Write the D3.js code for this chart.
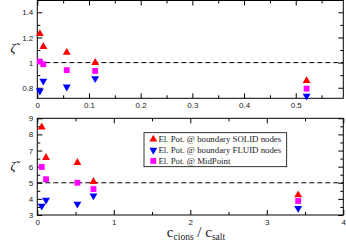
<!DOCTYPE html>
<html>
<head>
<meta charset="utf-8">
<script src="https://cdn.jsdelivr.net/npm/d3@7"></script>
<style>
body { margin: 0; background: #fff; }
svg { display: block; font-family: "Liberation Serif", "DejaVu Serif", serif; }
.axis text { font-size: 8px; fill: #222; }
.axis line { stroke: #000; }
</style>
</head>
<body>
<svg id="chart" width="346" height="244"></svg>
<script>
// top panel data (x = c_cions / c_salt)
var topX = [0.005, 0.0116, 0.057, 0.112, 0.521];
var topSolid = [1.23, 1.127, 1.08, 1.0, 0.855];
var topFluid = [0.775, 0.854, 0.807, 0.873, 0.735];
var topMid = [1.008, 0.987, 0.94, 0.934, 0.793];

// bottom panel data
var botX = [0.058, 0.114, 0.524, 0.734, 3.41];
var botSolid = [8.45, 6.56, 6.25, 5.07, 4.24];
var botFluid = [3.56, 3.93, 3.68, 4.2, 3.42];
var botMid = [5.98, 5.22, 5.0, 4.61, 3.87];

var topXTicks = [0, 0.1, 0.2, 0.3, 0.4, 0.5];
var topYTicks = [0.8, 1, 1.2, 1.4];
var botXTicks = [0, 1, 2, 3, 4];
var botYTicks = [3, 4, 5, 6, 7, 8, 9];

var legendLabels = ["El. Pot. @ boundary SOLID nodes", "El. Pot. @ boundary FLUID nodes", "El. Pot. @ MidPoint"];
var colors = ["#ff0000", "#0000ff", "#ff00ff"];

var svg = d3.select("#chart");
var up = d3.symbol().type(d3.symbolTriangle).size(27);
var sq = d3.symbol().type(d3.symbolSquare).size(34);

function panel(cfg) {
  var x = d3.scaleLinear().domain(cfg.xDom).range([37.3, 343.3]);
  var y = d3.scaleLinear().domain(cfg.yDom).range([cfg.bottom, cfg.top]);
  var g = svg.append("g");
  var w = 306, h = cfg.bottom - cfg.top;

  // minor ticks
  g.append("g").attr("class", "axis").attr("transform", "translate(0," + cfg.bottom + ")")
    .call(d3.axisBottom(x).tickValues(cfg.xMinor).tickSize(-3).tickSizeOuter(0).tickFormat(""));
  g.append("g").attr("class", "axis").attr("transform", "translate(0," + cfg.top + ")")
    .call(d3.axisTop(x).tickValues(cfg.xMinor).tickSize(-3).tickSizeOuter(0).tickFormat(""));
  g.append("g").attr("class", "axis").attr("transform", "translate(37.3,0)")
    .call(d3.axisLeft(y).tickValues(cfg.yMinor).tickSize(-3).tickSizeOuter(0).tickFormat(""));
  g.append("g").attr("class", "axis").attr("transform", "translate(343.3,0)")
    .call(d3.axisRight(y).tickValues(cfg.yMinor).tickSize(-3).tickSizeOuter(0).tickFormat(""));

  // major ticks
  g.append("g").attr("class", "axis").attr("transform", "translate(0," + cfg.bottom + ")")
    .call(d3.axisBottom(x).tickValues(cfg.xTicks).tickSize(-5).tickSizeOuter(0).tickPadding(4).tickFormat(d3.format("")));
  g.append("g").attr("class", "axis").attr("transform", "translate(0," + cfg.top + ")")
    .call(d3.axisTop(x).tickValues(cfg.xTicks).tickSize(-5).tickSizeOuter(0).tickFormat(""));
  g.append("g").attr("class", "axis").attr("transform", "translate(37.3,0)")
    .call(d3.axisLeft(y).tickValues(cfg.yTicks).tickSize(-5).tickSizeOuter(0).tickPadding(4).tickFormat(d3.format("")));
  g.append("g").attr("class", "axis").attr("transform", "translate(343.3,0)")
    .call(d3.axisRight(y).tickValues(cfg.yTicks).tickSize(-5).tickSizeOuter(0).tickFormat(""));
  g.selectAll(".domain").remove();

  // frame
  g.append("rect").attr("x", 37.3).attr("y", cfg.top).attr("width", w).attr("height", h)
    .attr("fill", "none").attr("stroke", "#000").attr("stroke-width", 1);

  // reference line
  g.append("line").attr("x1", 37.3).attr("x2", 343.3)
    .attr("y1", y(cfg.ref)).attr("y2", y(cfg.ref))
    .attr("stroke", "#000").attr("stroke-dasharray", "5,3");

  cfg.series.forEach(function(s, k) {
    g.selectAll(null).data(cfg.xs).enter().append("path")
      .attr("d", k == 2 ? sq : up)
      .attr("transform", function(d, i) {
        return "translate(" + x(d) + "," + y(s[i]) + ")" + (k == 1 ? " rotate(180)" : "");
      })
      .attr("fill", colors[k]);
  });

  // y label
  g.append("text").attr("x", 13).attr("y", (cfg.top + cfg.bottom) / 2 + 3)
    .attr("text-anchor", "middle").attr("font-size", 12).attr("font-style", "italic").text("\u03b6\u0303");
  return {x: x, y: y, g: g};
}

panel({
  xDom: [0, 0.592], yDom: [0.716, 1.494], top: 0.5, bottom: 98.3,
  xTicks: topXTicks, yTicks: topYTicks,
  xMinor: d3.range(0.05, 0.59, 0.1), yMinor: [0.9, 1.1, 1.3],
  ref: 1, xs: topX, series: [topSolid, topFluid, topMid]
});

panel({
  xDom: [0, 4], yDom: [3, 9], top: 118.3, bottom: 215,
  xTicks: botXTicks, yTicks: botYTicks,
  xMinor: [0.5, 1.5, 2.5, 3.5], yMinor: d3.range(3.5, 9, 1),
  ref: 5, xs: botX, series: [botSolid, botFluid, botMid]
});

// legend
var leg = svg.append("g").attr("transform", "translate(144,132.7)");
leg.append("rect").attr("width", 142.7).attr("height", 34).attr("fill", "#fff").attr("stroke", "#000").attr("stroke-width", 0.8);
legendLabels.forEach(function(t, k) {
  var yy = 6.6 + k * 10.8;
  leg.append("path").attr("d", k == 2 ? sq : up)
    .attr("transform", "translate(9.3," + yy + ")" + (k == 1 ? " rotate(180)" : ""))
    .attr("fill", colors[k]);
  leg.append("text").attr("x", 14.5).attr("y", yy + 3).attr("font-size", 8.8).attr("fill", "#222").text(t);
});

// x label
var xl = svg.append("text").attr("x", 196).attr("y", 237).attr("text-anchor", "middle").attr("fill", "#222");
xl.append("tspan").attr("font-size", 15).text("c");
xl.append("tspan").attr("font-size", 9.5).attr("dy", 3).text("cions");
xl.append("tspan").attr("font-size", 15).attr("dy", -3).text(" / c");
xl.append("tspan").attr("font-size", 9.5).attr("dy", 3).text("salt");
</script>
</body>
</html>
